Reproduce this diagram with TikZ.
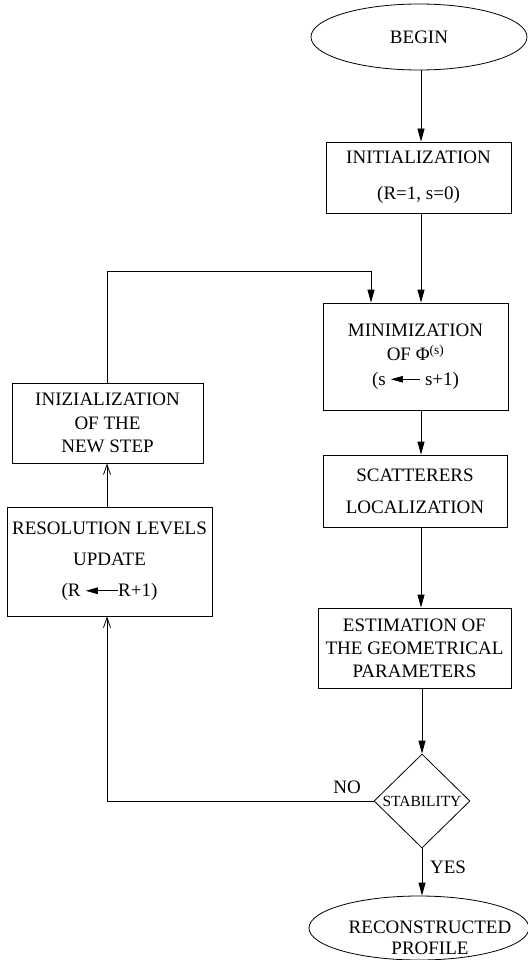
\documentclass[tikz,border=0pt]{standalone}
\usepackage{fontspec}
\setmainfont{Liberation Serif}
\usetikzlibrary{shapes.geometric,arrows.meta}
\newcommand\larr[1]{\tikz[baseline={(0pt,0pt)}]{\draw[line width=0.8pt,-{Triangle[length=12pt,width=6.5pt]}] (#1,6pt) -- (0pt,6pt);}}
\begin{document}
\begin{tikzpicture}[x=1pt,y=-1pt,
  box/.style={draw, line width=0.8pt, align=center, inner sep=0pt},
  arr/.style={line width=0.8pt, -{Triangle[length=13pt,width=7pt]}},
  openarr/.style={line width=0.8pt, -{Straight Barb[length=10pt,width=7pt]}},
  txt/.style={font=\fontsize{19}{23}\selectfont}]
\useasboundingbox (0,0) rectangle (527,960);
\fill[white] (0,0) rectangle (527,960);
\coordinate (cx) at (421,0);
\coordinate (lx) at (107,0);
\coordinate (loop) at (371,271);
\node[ellipse, draw, line width=0.8pt, minimum width=216pt, minimum height=66pt, inner sep=0pt, txt] (begin) at (419,37) {BEGIN};
\node[box, minimum width=185pt, minimum height=71pt, font=\fontsize{19}{36}\selectfont] (init) at (418.5,177.5) {INITIALIZATION\\(R=1, s=0)};
\node[box, minimum width=185pt, minimum height=107pt, font=\fontsize{19}{24.5}\selectfont] (min) at (415.5,356.5) {MINIMIZATION\\OF Φ\textsuperscript{(s)}\\(s \larr{29pt} s+1)};
\node[box, minimum width=184pt, minimum height=72pt, font=\fontsize{19}{32}\selectfont] (scat) at (415,491) {SCATTERERS\\LOCALIZATION};
\node[box, minimum width=193pt, minimum height=80pt, font=\fontsize{19}{23}\selectfont] (est) at (414.5,648) {ESTIMATION OF\\THE GEOMETRICAL\\PARAMETERS};
\node[diamond, draw, line width=0.8pt, minimum width=96pt, minimum height=94pt, inner sep=0pt,
  label={[font=\fontsize{15.5}{18}\selectfont]center:STABILITY}] (stab) at (422,801) {};
\node[ellipse, draw, line width=0.8pt, minimum width=220pt, minimum height=64pt, inner sep=0pt] (recon) at (419,928) {};
\node[align=center, inner sep=0pt, font=\fontsize{19}{21}\selectfont] (recontext) at (430,938) {RECONSTRUCTED\\PROFILE};
\node[box, minimum width=191pt, minimum height=80pt, font=\fontsize{19}{23.5}\selectfont] (iniz) at (107.5,423) {INIZIALIZATION\\OF THE\\NEW STEP};
\node[box, minimum width=205pt, minimum height=109pt, font=\fontsize{19}{31}\selectfont] (res) at (109.5,561.5) {RESOLUTION LEVELS\\UPDATE\\(R \larr{32pt}R+1)};
\node[txt, inner sep=0pt] (no) at (347,787) {NO};
\node[txt, inner sep=0pt] (yes) at (448,867) {YES};
\draw[arr] (begin.south -| cx) -- (init.north -| cx);
\draw[arr] (init.south -| cx) -- (min.north -| cx);
\draw[arr] (min.south -| cx) -- (scat.north -| cx);
\draw[arr] (scat.south -| cx) -- (est.north -| cx);
\draw[arr] (est.south -| stab.north) -- (stab.north);
\draw[arr] (stab.south) -- (recon.north -| stab.south);
\draw[arr] (iniz.north -| lx) |- (loop) -- (min.north -| loop);
\draw[openarr] (stab.west) -| (res.south -| lx);
\draw[openarr] (res.north -| lx) -- (iniz.south -| lx);
\end{tikzpicture}
\end{document}
